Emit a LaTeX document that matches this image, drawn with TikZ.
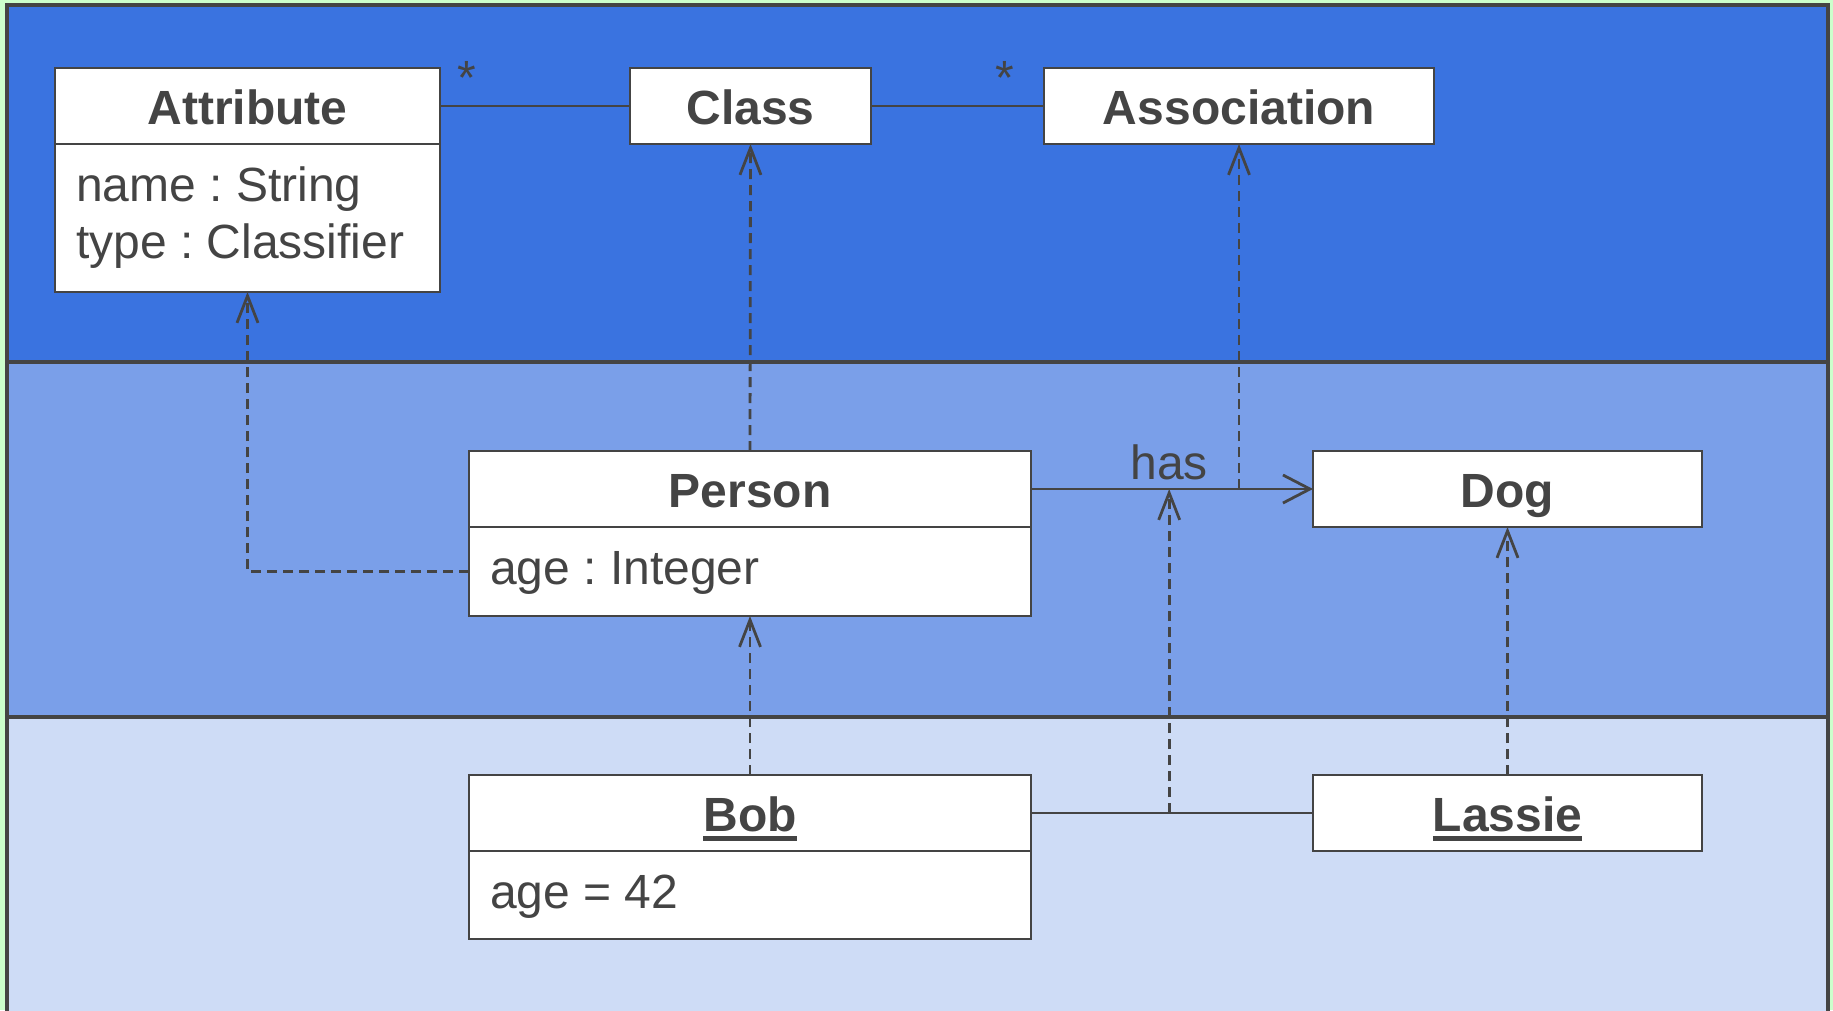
\documentclass[tikz,border=0pt]{standalone}
\usepackage{fontspec}
\setmainfont{Liberation Sans}
\usetikzlibrary{arrows.meta,calc}

\definecolor{ink}{HTML}{444444}
\definecolor{pagegreen}{HTML}{CCFFCC}
\definecolor{metaband}{HTML}{3A73E0}
\definecolor{modelband}{HTML}{7A9FE9}
\definecolor{objband}{HTML}{CEDCF6}

% underlined object name with a rule of the right weight for 48pt text
\newcommand\objname[1]{\setbox0\hbox{#1}\rlap{\rule[-9pt]{\wd0}{4.7pt}}\box0}

\begin{document}
\frenchspacing
\begin{tikzpicture}[x=1pt,y=-1pt,
  txt/.style={text=ink, inner sep=0pt, outer sep=0pt, font=\fontsize{48}{57}\selectfont},
  box/.style={draw=ink, line width=2.8pt, fill=white, rectangle, inner sep=0pt,
              outer sep=0pt, anchor=north west},
  head/.style={box, text=ink, font=\fontsize{48}{57}\selectfont\bfseries,
               text height=38pt, text depth=1pt, minimum height=76pt},
  body/.style={box},
  band/.style={draw=ink, line width=4pt},
  link/.style={draw=ink, line width=2.8pt},
  dep/.style={draw=ink, line width=2.8pt, dash pattern=on 10pt off 6pt,
              -{Straight Barb[length=27pt,width=21pt]}},
  navarrow/.style={draw=ink, line width=2.8pt,
              -{Straight Barb[length=27pt,width=28pt]}}
]
\useasboundingbox (0,0) rectangle (1833,1010);
\fill[pagegreen] (0,0) rectangle (1833,1010);

% three modelling levels
\draw[band, fill=metaband]  (7,5.3) rectangle (1828,362);
\draw[band, fill=modelband] (7,362) rectangle (1828,717);
\draw[band, fill=objband]   (7,717) rectangle (1828,1030);

% metamodel
\node[head, minimum width=385pt] (attr) at (55,68) {Attribute};
\node[body, minimum width=385pt, minimum height=148pt] (attrB) at (55,144) {};
\node[txt, anchor=base west] (attrL1) at ($(attrB.north west)+(21,57)$) {name : String};
\node[txt, anchor=base west] (attrL2) at ($(attrB.north west)+(21,114)$) {type : Classifier};

\node[head, minimum width=241pt] (cls) at (630,68) {Class};
\node[head, minimum width=390pt] (assoc) at (1044,68) {Association};

% model
\node[head, minimum width=562pt] (person) at (469,451) {Person};
\node[body, minimum width=562pt, minimum height=89pt] (personB) at (469,527) {};
\node[txt, anchor=base west] (personL1) at ($(personB.north west)+(21,57)$) {age : Integer};

\node[head, minimum width=389pt] (dog) at (1313,451) {Dog};

% instances
\node[head, minimum width=562pt] (bob) at (469,775) {\objname{Bob}};
\node[body, minimum width=562pt, minimum height=88pt] (bobB) at (469,851) {};
\node[txt, anchor=base west] (bobL1) at ($(bobB.north west)+(21,57)$) {age = 42};

\node[head, minimum width=389pt] (lassie) at (1313,775) {\objname{Lassie}};

% metamodel associations
\draw[link] (attr.east) -- (cls.west);
\draw[link] (cls.east) -- (assoc.west);
\node[txt, anchor=base] (multA) at ($(attr.east)+(27,-12)$) {*};
\node[txt, anchor=base] (multB) at ($(assoc.west)+(-39,-12)$) {*};

% model association
\draw[navarrow] (person.east) -- (dog.west)
  coordinate[pos=0.49] (hasmid)
  node[txt, pos=0.49, anchor=base, yshift=10pt] (haslbl) {has};

% instance link
\draw[link] (bob.east) -- (lassie.west) coordinate[pos=0.49] (linkmid);

% instance-of dependencies
\coordinate (assocfoot) at (assoc.south |- person.east);
\draw[dep] (person.north) -- (cls.south);
\draw[dep] (personB.west) -| (attrB.south);
\draw[dep] (assocfoot) -- (assoc.south);
\draw[dep] (bob.north) -- (personB.south);
\draw[dep] (linkmid) -- (hasmid);
\draw[dep] (lassie.north) -- (dog.south);
\end{tikzpicture}
\end{document}
